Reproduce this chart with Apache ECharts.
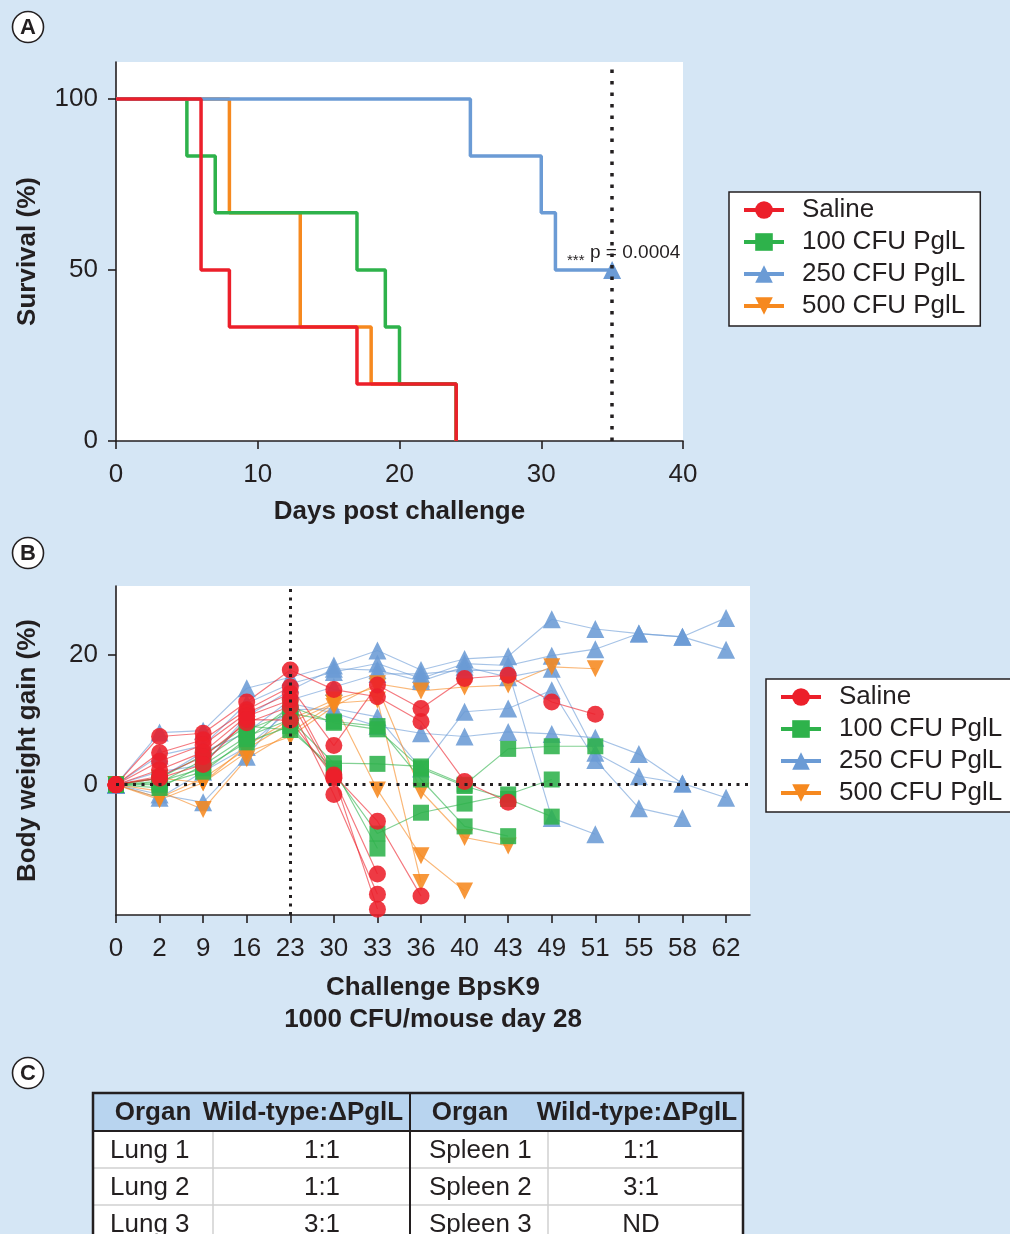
<!DOCTYPE html>
<html>
<head>
<meta charset="utf-8">
<script src="https://cdn.jsdelivr.net/npm/echarts@6/dist/echarts.min.js"></script>
<style>
  html, body { margin: 0; padding: 0; background: #d5e6f5; }
  #chart { width: 1010px; height: 1234px; }
</style>
</head>
<body>
<div id="chart"></div>
<script>
const FONT = "'Liberation Sans', Arial, Helvetica, sans-serif"
const INK = '#231f20'
const COLORS = {
  saline: '#ec1f2a',
  pgl100: '#2eb24b',
  pgl250: '#6b9bd5',
  pgl500: '#f6891f',
}
const GROUPS = ['Saline', '100 CFU PglL', '250 CFU PglL', '500 CFU PglL']

// panel A: Kaplan-Meier steps [day, % survival]
const salineSurvival = [[0, 100], [6, 50], [8, 33.3], [17, 16.7], [24, 0]]
const pgl100Survival = [[0, 100], [5, 83.3], [7, 66.7], [17, 50], [19, 33.3], [20, 16.7], [24, 0]]
const pgl250Survival = [[0, 100], [25, 83.3], [30, 66.7], [31, 50], [35, 50]]
const pgl500Survival = [[0, 100], [8, 66.7], [13, 33.3], [18, 16.7], [24, 0]]
const studyEndDay = 35

// panel B: body weight gain (%) per mouse, one value per sampling day
const dayLabels = ['0', '2', '9', '16', '23', '30', '33', '36', '40', '43', '49', '51', '55', '58', '62']
const challengeIndex = 4

const pgl250Mice = [
  [0, 8.0, 8.3, 14.8, 16.5, 18.3, 20.6, 17.6, 19.3, 19.7, 25.4, 23.9, 23.2, 22.7, 25.6],
  [0, 4.5, 6.0, 12.5, 15.5, 17.3, 18.6, 16.3, 18.6, 18.3, 19.8, 20.8, 23.2, 22.7, 20.7],
  [0, 2.0, 3.0, 10.5, 14.5, 17.8, 17.6, 15.9, 18.1, 16.5, 17.8, 4.9, 1.3, 0.2],
  [0, -2.0, 2.0, 5.8, 11.5, 11.7, 10.4, 2.5, 11.2, 11.7, 14.5, 3.8, -3.6, -5.1],
  [0, -1.5, -2.7, 4.3, 12.5, 11.0, 9.0, 7.9, 7.4, 8.1, 7.8, 7.2, 4.7, 0.2, -2.0],
  [0, 1.0, 5.0, 8.0, 13.0, 15.0, 17.0, 17.0, 17.6, 17.5, -5.1, -7.6],
]
const pgl500Mice = [
  [0, -2.3, 0.3, 5.0, 7.4, 12.0, 15.5, 14.4, 15.0, 15.3, 18.1, 17.8],
  [0, -1.0, -3.8, 4.0, 8.0, 12.5, -0.8, -10.9, -16.3],
  [0, 1.0, 0.3, 6.0, 10.0, 13.0, 15.0, -1.0, -8.1, -9.4],
  [0, -2.0, 1.0, 5.5, 9.5, 12.5, 13.0, -15.0],
]
const pgl100Mice = [
  [0, 0.3, 3.8, 8.4, 11.0, 9.7, 9.0, 0.8, -6.4, -7.9],
  [0, -0.5, 3.0, 7.4, 10.0, 3.3, 3.2, 2.8, 0.0, 5.5, 5.9, 5.9],
  [0, 0.5, 2.5, 6.5, 9.0, 1.8, -7.5, -4.3, -2.9, -1.5, 0.8],
  [0, 1.0, 4.5, 9.0, 8.4, 2.5, -9.8],
  [0, 0.0, 2.0, 7.0, 12.0, 9.5, 8.5, 2.5, -0.2, -2.2, -4.9],
]
const salineMice = [
  [0, 7.4, 7.9, 12.7, 17.6, 14.6, 13.5, 9.7, 0.5, -2.7],
  [0, 4.9, 6.9, 11.5, 15.0, 6.0, 15.3, 11.7, 16.3, 16.8, 12.7, 10.8],
  [0, 3.6, 6.1, 11.0, 14.0, 1.5, -5.6, -17.1],
  [0, 2.3, 5.0, 10.5, 13.0, 1.0, -13.7],
  [0, 1.3, 4.3, 9.5, 12.0, -1.5, -16.8],
  [0, 1.0, 3.1, 10.0, 9.9, 1.2, -19.1],
]

// panel C
const tableHeader = ['Organ', 'Wild-type:\u0394PglL', 'Organ', 'Wild-type:\u0394PglL']
const lungRows = [['Lung 1', '1:1'], ['Lung 2', '1:1'], ['Lung 3', '3:1']]
const spleenRows = [['Spleen 1', '1:1'], ['Spleen 2', '3:1'], ['Spleen 3', 'ND']]

const DOWN_TRIANGLE = 'path://M0,0L10,0L5,8.66Z'
const SYMBOLS = {
  'Saline': { symbol: 'circle', size: 17 },
  '100 CFU PglL': { symbol: 'rect', size: 16 },
  '250 CFU PglL': { symbol: 'triangle', size: 18 },
  '500 CFU PglL': { symbol: DOWN_TRIANGLE, size: 17 },
}
const GROUP_COLOR = {
  'Saline': COLORS.saline,
  '100 CFU PglL': COLORS.pgl100,
  '250 CFU PglL': COLORS.pgl250,
  '500 CFU PglL': COLORS.pgl500,
}

const axisText = { fontFamily: FONT, fontSize: 26, color: INK }
const nameText = { fontFamily: FONT, fontSize: 26, fontWeight: 'bold', color: INK }
const axisLine = { show: true, onZero: false, lineStyle: { color: INK, width: 1.6 } }
const axisTick = { show: true, length: 8, lineStyle: { color: INK, width: 1.6 } }

function mouseSeries(name, mice) {
  return mice.map(m => ({
    type: 'line',
    name,
    xAxisIndex: 1,
    yAxisIndex: 1,
    data: m.map((v, i) => [i, v]),
    symbol: SYMBOLS[name].symbol,
    symbolSize: SYMBOLS[name].size,
    itemStyle: { color: GROUP_COLOR[name], opacity: 0.88 },
    lineStyle: { color: GROUP_COLOR[name], width: 1.2, opacity: 0.6 },
    animation: false,
    silent: true,
  }))
}

function survivalSeries(name, data, extra) {
  return Object.assign({
    type: 'line',
    name,
    xAxisIndex: 0,
    yAxisIndex: 0,
    step: 'end',
    data,
    symbol: 'none',
    lineStyle: { color: GROUP_COLOR[name], width: 3.5 },
    itemStyle: { color: GROUP_COLOR[name] },
    animation: false,
    silent: true,
  }, extra || {})
}

const bSeries = [
  ...mouseSeries('250 CFU PglL', pgl250Mice),
  ...mouseSeries('500 CFU PglL', pgl500Mice),
  ...mouseSeries('100 CFU PglL', pgl100Mice),
  ...mouseSeries('Saline', salineMice),
]
// reference lines of panel B
bSeries[0].markLine = {
  silent: true,
  symbol: ['none', 'none'],
  label: { show: false },
  lineStyle: { color: INK, width: 3, type: [3, 5.5], opacity: 1 },
  data: [{ yAxis: 0 }, { xAxis: challengeIndex }],
  animation: false,
}

const aSeries = [
  survivalSeries('500 CFU PglL', pgl500Survival),
  survivalSeries('100 CFU PglL', pgl100Survival),
  survivalSeries('250 CFU PglL', pgl250Survival.map((p, i) =>
    i === pgl250Survival.length - 1 ? { value: p, symbol: 'triangle', symbolSize: 18 } : p), {
    markLine: {
      silent: true,
      symbol: ['none', 'none'],
      label: { show: false },
      lineStyle: { color: INK, width: 3.5, type: [3.5, 8] },
      data: [{ xAxis: studyEndDay }],
      animation: false,
    },
  }),
  survivalSeries('Saline', salineSurvival),
]

const legendBase = {
  orient: 'vertical',
  data: GROUPS,
  backgroundColor: '#fff',
  borderColor: INK,
  borderWidth: 1.5,
  borderRadius: 0,
  itemWidth: 40,
  itemHeight: 22,
  itemGap: 6,
  selectedMode: false,
  textStyle: { fontFamily: FONT, fontSize: 26, color: INK, lineHeight: 26, padding: [0, 0, 0, 13] },
  lineStyle: { width: 4, opacity: 1 },
  itemStyle: { opacity: 1 },
}

function panelLabel(letter, cx, cy) {
  return [
    { type: 'circle', shape: { cx, cy, r: 15.5 }, style: { fill: '#fff', stroke: INK, lineWidth: 1.6 }, silent: true },
    { type: 'text', style: { text: letter, x: cx, y: cy + 1, align: 'center', verticalAlign: 'middle',
      font: `bold 22px ${FONT}`, fill: INK }, silent: true },
  ]
}

function tableGraphics() {
  const xs = [93, 213, 410, 548, 743]
  const ys = [1093, 1131, 1168, 1205, 1243]
  const g = []
  g.push({ type: 'rect', shape: { x: xs[0], y: ys[0], width: xs[4] - xs[0], height: ys[1] - ys[0] },
    style: { fill: '#b8d4ef' }, silent: true })
  g.push({ type: 'rect', shape: { x: xs[0], y: ys[1], width: xs[4] - xs[0], height: ys[4] - ys[1] },
    style: { fill: '#fff' }, silent: true })
  // light inner rules
  for (let r = 2; r < 4; r++) {
    g.push({ type: 'line', shape: { x1: xs[0], y1: ys[r], x2: xs[4], y2: ys[r] },
      style: { stroke: '#d0d0d0', lineWidth: 1.5 }, silent: true })
  }
  ;[1, 3].forEach(c => g.push({ type: 'line', shape: { x1: xs[c], y1: ys[1], x2: xs[c], y2: ys[4] },
    style: { stroke: '#d0d0d0', lineWidth: 1.5 }, silent: true }))
  // dark rules
  g.push({ type: 'line', shape: { x1: xs[0], y1: ys[1], x2: xs[4], y2: ys[1] },
    style: { stroke: INK, lineWidth: 2 }, silent: true })
  g.push({ type: 'line', shape: { x1: xs[2], y1: ys[0], x2: xs[2], y2: ys[4] },
    style: { stroke: INK, lineWidth: 2 }, silent: true })
  g.push({ type: 'rect', shape: { x: xs[0], y: ys[0], width: xs[4] - xs[0], height: ys[4] - ys[0] },
    style: { fill: 'none', stroke: INK, lineWidth: 2.5 }, silent: true })

  const headX = [153, 303, 470, 637]
  tableHeader.forEach((t, i) => g.push({ type: 'text', silent: true,
    style: { text: t, x: headX[i], y: (ys[0] + ys[1]) / 2 + 1, align: 'center', verticalAlign: 'middle',
      font: `bold 26px ${FONT}`, fill: INK } }))
  const rowText = (rows, nameX, valX) => rows.forEach((row, r) => {
    const cy = (ys[r + 1] + ys[r + 2]) / 2 + 1
    g.push({ type: 'text', silent: true, style: { text: row[0], x: nameX, y: cy, align: 'left',
      verticalAlign: 'middle', font: `26px ${FONT}`, fill: INK } })
    g.push({ type: 'text', silent: true, style: { text: row[1], x: valX, y: cy, align: 'center',
      verticalAlign: 'middle', font: `26px ${FONT}`, fill: INK } })
  })
  rowText(lungRows, 110, 322)
  rowText(spleenRows, 429, 641)
  return g
}

const chart = echarts.init(document.getElementById('chart'), null, { renderer: 'canvas' })

chart.setOption({
  backgroundColor: '#d5e6f5',
  animation: false,
  textStyle: { fontFamily: FONT },
  grid: [
    { left: 116, top: 62, width: 567, height: 379, show: true, backgroundColor: '#fff', borderWidth: 0 },
    { left: 116, top: 586, width: 634, height: 329, show: true, backgroundColor: '#fff', borderWidth: 0 },
  ],
  xAxis: [
    {
      type: 'value', gridIndex: 0, min: 0, max: 40, interval: 10,
      name: 'Days post challenge', nameLocation: 'middle', nameGap: 58, nameTextStyle: nameText,
      axisLine, axisTick, splitLine: { show: false },
      axisLabel: Object.assign({ margin: 21 }, axisText),
    },
    {
      type: 'value', gridIndex: 1, min: 0, max: 14.55,
      name: 'Challenge BpsK9\n1000 CFU/mouse day 28', nameLocation: 'middle', nameGap: 57,
      nameTextStyle: Object.assign({ lineHeight: 32 }, nameText),
      axisLine,
      axisTick: Object.assign({ customValues: dayLabels.map((_, i) => i) }, axisTick),
      splitLine: { show: false },
      axisLabel: Object.assign({ margin: 21, customValues: dayLabels.map((_, i) => i),
        formatter: v => dayLabels[Math.round(v)] }, axisText),
    },
  ],
  yAxis: [
    {
      type: 'value', gridIndex: 0, min: 0, max: 110.8,
      name: 'Survival (%)', nameLocation: 'middle', nameGap: 75, nameTextStyle: nameText,
      axisLine,
      axisTick: Object.assign({ customValues: [0, 50, 100] }, axisTick),
      splitLine: { show: false },
      axisLabel: Object.assign({ margin: 18, customValues: [0, 50, 100] }, axisText),
    },
    {
      type: 'value', gridIndex: 1, min: -20, max: 30.5,
      name: 'Body weight gain (%)', nameLocation: 'middle', nameGap: 75, nameTextStyle: nameText,
      axisLine,
      axisTick: Object.assign({ customValues: [0, 20] }, axisTick),
      splitLine: { show: false },
      axisLabel: Object.assign({ margin: 18, customValues: [0, 20] }, axisText),
    },
  ],
  legend: [
    Object.assign({}, legendBase, { left: 729, top: 192, padding: [5, 15, 7, 13] }),
    Object.assign({}, legendBase, { left: 766, top: 679, padding: [5, 40, 6, 13] }),
  ],
  graphic: [
    ...panelLabel('A', 28, 27),
    ...panelLabel('B', 28, 553),
    ...panelLabel('C', 28, 1073),
    { type: 'text', silent: true, style: { text: '***', x: 567, y: 261, align: 'left', verticalAlign: 'middle',
      font: `15px ${FONT}`, fill: INK } },
    { type: 'text', silent: true, style: { text: 'p = 0.0004', x: 590, y: 253, align: 'left', verticalAlign: 'middle',
      font: `19px ${FONT}`, fill: INK } },
    ...tableGraphics(),
  ],
  series: [...bSeries, ...aSeries],
})
</script>
</body>
</html>
